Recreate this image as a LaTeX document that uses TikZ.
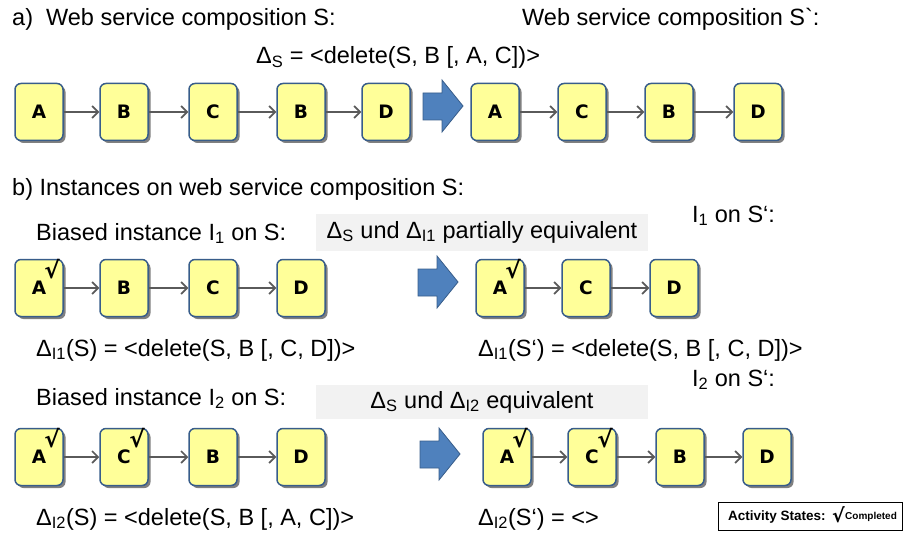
\documentclass[tikz,border=0pt]{standalone}
\usepackage{fontspec}
\setmainfont{Liberation Sans}
\newfontfamily\boxfont{DejaVu Sans}
\usetikzlibrary{arrows.meta,shadows,calc}

\definecolor{actfill}{HTML}{FFFF99}
\definecolor{actborder}{HTML}{385D8A}
\definecolor{flowgray}{HTML}{5A5A5A}
\definecolor{bigblue}{HTML}{4F81BD}
\definecolor{notegray}{HTML}{F2F2F2}

\newcommand\chk{{\boxfont\bfseries\itshape\fontsize{23}{23}\selectfont √}}
\newcommand\btick{{\addfontfeatures{Ligatures=TeXOff}`}}

\tikzset{
  act/.style={draw=actborder, line width=1.5pt, fill=actfill, rounded corners=6pt,
    minimum width=48pt, minimum height=57pt, inner sep=0pt,
    font=\boxfont\bfseries\fontsize{18.5}{18.5}\selectfont,
    drop shadow={shadow xshift=2.5pt, shadow yshift=-2.5pt, fill=black!50, opacity=1}},
  flow/.style={draw=flowgray, line width=1.7pt,
    -{Straight Barb[length=6pt,width=12pt,line width=1.7pt]}},
  bigarrow/.style={fill=bigblue, draw=actborder, line width=0.8pt},
  lbl/.style={anchor=base west, inner sep=0pt, font=\fontsize{23.5}{27}\selectfont},
  note/.style={fill=notegray, inner sep=0pt, font=\fontsize{23.5}{27}\selectfont},
  tick/.style={inner sep=0pt},
}

\begin{document}
\begin{tikzpicture}[x=1pt,y=-1pt]
\useasboundingbox (0,0) rectangle (904,540);

% ---------- a) composition S and S`
\node[lbl] (ta) at (12,26) {a)\ \ Web service composition S:};
\node[lbl] (tb) at (522,26) {Web service composition S\btick:};
\node[lbl] (ds) at (256,64) {Δ\textsubscript{S} = <delete(S, B [, A, C])>};

\node[act] (a1) at (39,112) {A};
\node[act] (a2) at (124,112) {B};
\node[act] (a3) at (213,112) {C};
\node[act] (a4) at (301,112) {B};
\node[act] (a5) at (386,112) {D};
\draw[flow] (a1) -- (a2);
\draw[flow] (a2) -- (a3);
\draw[flow] (a3) -- (a4);
\draw[flow] (a4) -- (a5);

\draw[bigarrow] (423,93) -- (442,93) -- (442,80) -- (463,106) -- (442,132) -- (442,120) -- (423,120) -- cycle;

\node[act] (s1) at (495,112) {A};
\node[act] (s2) at (582,112) {C};
\node[act] (s3) at (669,112) {B};
\node[act] (s4) at (758,112) {D};
\draw[flow] (s1) -- (s2);
\draw[flow] (s2) -- (s3);
\draw[flow] (s3) -- (s4);

% ---------- b) instances
\node[lbl] (tc) at (12,196) {b) Instances on web service composition S:};

% instance I1
\node[lbl] (ti1) at (36,240) {Biased instance I\textsubscript{1} on S:};
\node[note, minimum width=332pt, minimum height=37pt] (n1) at (482,232) {Δ\textsubscript{S} und Δ\textsubscript{I1} partially equivalent};
\node[lbl] (ti1s) at (692,222) {I\textsubscript{1} on S‘:};

\node[act] (b1) at (39,288) {A};
\node[act] (b2) at (124,288) {B};
\node[act] (b3) at (213,288) {C};
\node[act] (b4) at (301,288) {D};
\node[tick] (k1) at ($(b1.center)+(13,-19)$) {\chk};
\draw[flow] (b1) -- (b2);
\draw[flow] (b2) -- (b3);
\draw[flow] (b3) -- (b4);

\draw[bigarrow] (418,269) -- (437,269) -- (437,256) -- (458,282) -- (437,308) -- (437,296) -- (418,296) -- cycle;

\node[act] (c1) at (500,288) {A};
\node[act] (c2) at (586,288) {C};
\node[act] (c3) at (674,288) {D};
\node[tick] (k2) at ($(c1.center)+(13,-19)$) {\chk};
\draw[flow] (c1) -- (c2);
\draw[flow] (c2) -- (c3);

\node[lbl] (d1) at (36,356) {Δ\textsubscript{I1}(S) = <delete(S, B [, C, D])>};
\node[lbl] (d1s) at (478,356) {Δ\textsubscript{I1}(S‘) = <delete(S, B [, C, D])>};

% instance I2
\node[lbl] (ti2s) at (692,386) {I\textsubscript{2} on S‘:};
\node[lbl] (ti2) at (36,405) {Biased instance I\textsubscript{2} on S:};
\node[note, minimum width=332pt, minimum height=34pt] (n2) at (482,402) {Δ\textsubscript{S} und Δ\textsubscript{I2} equivalent};

\node[act] (e1) at (39,457) {A};
\node[act] (e2) at (124,457) {C};
\node[act] (e3) at (213,457) {B};
\node[act] (e4) at (301,457) {D};
\node[tick] (k3) at ($(e1.center)+(13,-19)$) {\chk};
\node[tick] (k4) at ($(e2.center)+(13,-19)$) {\chk};
\draw[flow] (e1) -- (e2);
\draw[flow] (e2) -- (e3);
\draw[flow] (e3) -- (e4);

\draw[bigarrow] (420,441) -- (439,441) -- (439,428) -- (460,454) -- (439,480) -- (439,468) -- (420,468) -- cycle;

\node[act] (f1) at (507,457) {A};
\node[act] (f2) at (592,457) {C};
\node[act] (f3) at (680,457) {B};
\node[act] (f4) at (767,457) {D};
\node[tick] (k5) at ($(f1.center)+(13,-19)$) {\chk};
\node[tick] (k6) at ($(f2.center)+(13,-19)$) {\chk};
\draw[flow] (f1) -- (f2);
\draw[flow] (f2) -- (f3);
\draw[flow] (f3) -- (f4);

\node[lbl] (d2) at (36,525) {Δ\textsubscript{I2}(S) = <delete(S, B [, A, C])>};
\node[lbl] (d2s) at (478,525) {Δ\textsubscript{I2}(S‘) = <>};

% legend
\node[draw=black, line width=0.8pt, minimum width=184pt, minimum height=28pt, inner sep=0pt] (leg) at (810.5,516) {};
\node[anchor=west, inner sep=0pt, font=\bfseries\fontsize{13.5}{14}\selectfont] (lt) at (728,517) {Activity States:};
\node[anchor=west, inner sep=0pt] (lk) at (832,515) {{\boxfont\bfseries\itshape\fontsize{19}{19}\selectfont √}};
\node[anchor=west, inner sep=0pt, font=\bfseries\fontsize{10}{11}\selectfont] (lc) at (845,517) {Completed};
\end{tikzpicture}
\end{document}
